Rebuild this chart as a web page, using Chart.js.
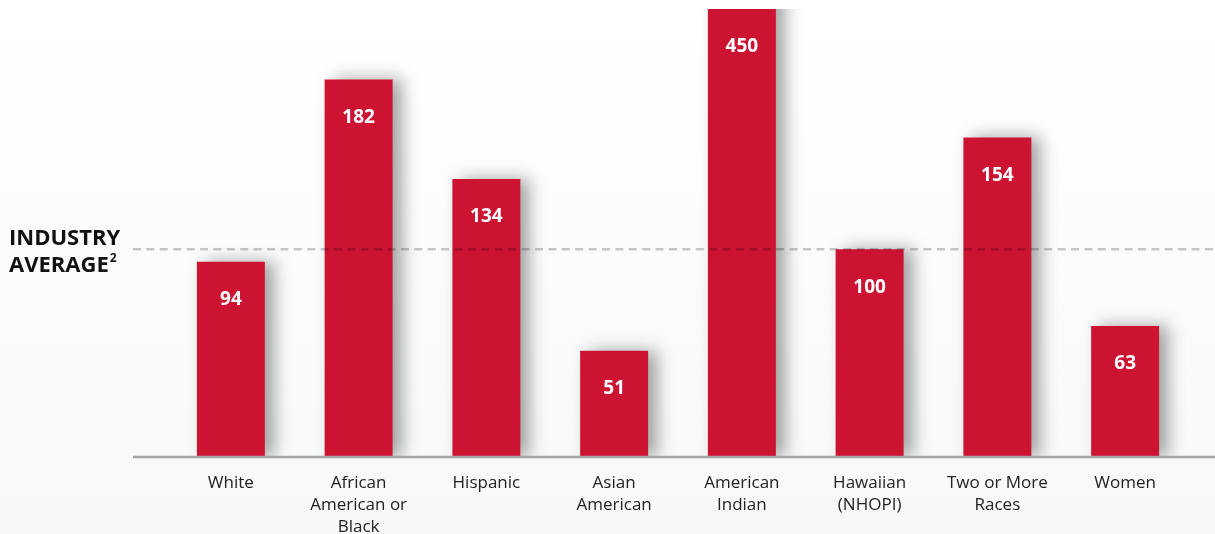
<!DOCTYPE html>
<html>
<head>
<meta charset="utf-8">
<script src="https://cdn.jsdelivr.net/npm/chart.js@4/dist/chart.umd.min.js"></script>
<style>
  html, body { margin: 0; padding: 0; }
  body { width: 1215px; height: 534px; background: linear-gradient(#ffffff, #f7f8f8); overflow: hidden; }
  #wrap { position: relative; width: 1215px; height: 534px; }
</style>
</head>
<body>
<div id="wrap"><canvas id="c" width="1215" height="534"></canvas></div>
<script>
const categories = [["White"], ["African", "American or", "Black"], ["Hispanic"], ["Asian", "American"], ["American", "Indian"], ["Hawaiian", "(NHOPI)"], ["Two or More", "Races"], ["Women"]];
const values = [94, 182, 134, 51, 450, 100, 154, 63];
const industryAverage = 100;
const refLabel = ["INDUSTRY", "AVERAGE"];
const yMax = 216;

const BAR = '#cd1332';

const shadowPlugin = {
  id: 'shadow',
  beforeDatasetsDraw(chart) {
    const ctx = chart.ctx;
    ctx.save();
    ctx.shadowColor = 'rgba(0,0,0,0.36)';
    ctx.shadowBlur = 16;
    ctx.shadowOffsetX = 9;
    ctx.shadowOffsetY = 0;
  },
  afterDatasetsDraw(chart) {
    chart.ctx.restore();
  }
};

const overlayPlugin = {
  id: 'overlay',
  afterDatasetsDraw(chart) {
    const ctx = chart.ctx;
    const y = chart.scales.y;
    const W = chart.width;
    ctx.save();
    // baseline
    const y0 = y.getPixelForValue(0);
    ctx.strokeStyle = '#a3a5a7';
    ctx.lineWidth = 2.5;
    ctx.beginPath();
    ctx.moveTo(133, y0 + 0.5);
    ctx.lineTo(W, y0 + 0.5);
    ctx.stroke();
    // industry average dashed
    const ya = y.getPixelForValue(industryAverage);
    ctx.strokeStyle = 'rgba(0,0,0,0.21)';
    ctx.lineWidth = 2.5;
    ctx.setLineDash([8, 5.4]);
    ctx.beginPath();
    ctx.moveTo(133, ya);
    ctx.lineTo(W, ya);
    ctx.stroke();
    ctx.setLineDash([]);
    // value labels
    const meta = chart.getDatasetMeta(0);
    ctx.fillStyle = '#ffffff';
    ctx.font = 'bold 19px "Open Sans"';
    ctx.textAlign = 'center';
    ctx.textBaseline = 'middle';
    meta.data.forEach((bar, i) => {
      const top = Math.max(bar.y, chart.chartArea.top);
      ctx.fillText(String(values[i]), bar.x, top + 38);
    });
    // industry average label
    ctx.fillStyle = '#111111';
    ctx.font = 'bold 22px "Open Sans"';
    ctx.textAlign = 'left';
    ctx.textBaseline = 'alphabetic';
    ctx.fillText(refLabel[0], 9, 245);
    ctx.fillText(refLabel[1], 9, 272);
    const w = ctx.measureText(refLabel[1]).width;
    ctx.font = 'bold 12px "Open Sans"';
    ctx.fillText('2', 9 + w + 1, 262);
    ctx.restore();
  }
};

new Chart(document.getElementById('c'), {
  type: 'bar',
  data: {
    labels: categories,
    datasets: [{
      data: values,
      backgroundColor: BAR,
      borderWidth: 0,
      categoryPercentage: 1,
      barPercentage: 0.532
    }]
  },
  options: {
    responsive: false,
    animation: false,
    events: [],
    layout: { padding: { left: 167, right: 26, top: 9, bottom: 0 } },
    plugins: { legend: { display: false }, tooltip: { enabled: false } },
    scales: {
      x: {
        grid: { display: false, drawTicks: false },
        border: { display: false },
        ticks: {
          color: '#222222',
          font: { family: '"Open Sans"', size: 17, lineHeight: 22 / 17 },
          padding: 16,
          maxRotation: 0,
          autoSkip: false
        },
        afterFit(s) { s.height = 77.5; }
      },
      y: {
        display: false,
        min: 0,
        max: yMax
      }
    }
  },
  plugins: [shadowPlugin, overlayPlugin]
});
</script>
</body>
</html>
